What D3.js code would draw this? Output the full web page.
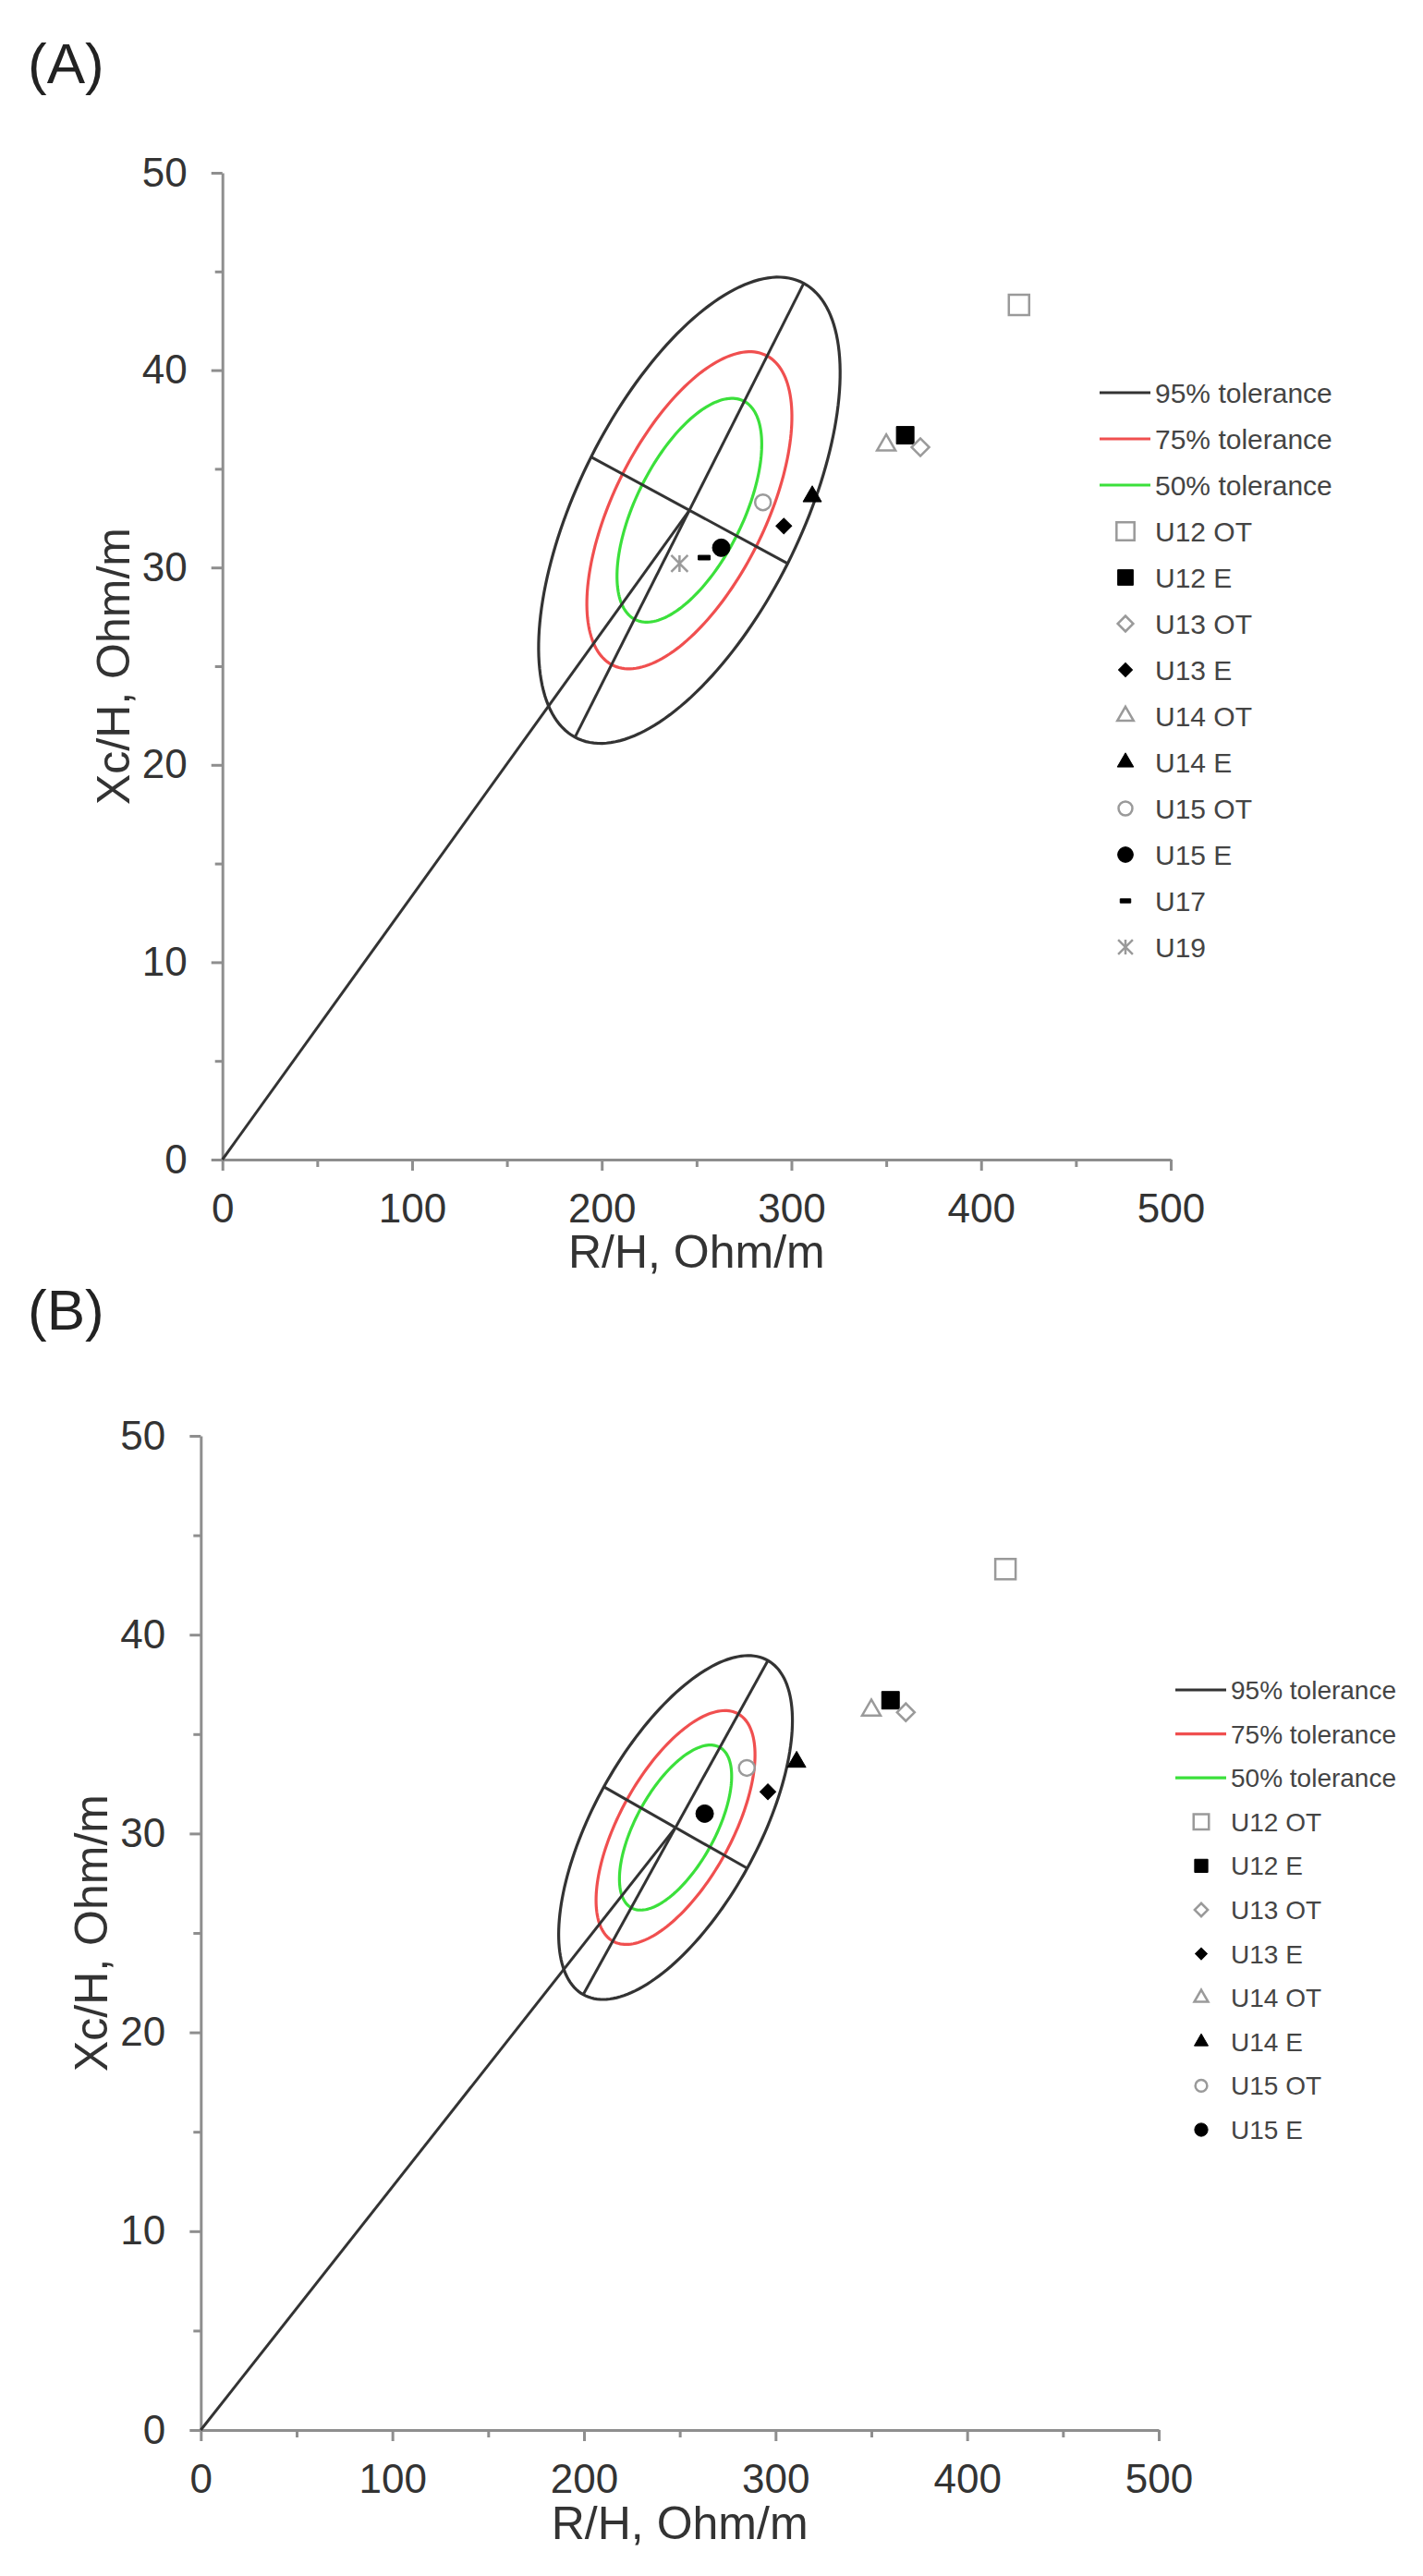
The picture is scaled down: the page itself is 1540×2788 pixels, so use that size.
<!DOCTYPE html>
<html>
<head>
<meta charset="utf-8">
<script src="https://cdn.jsdelivr.net/npm/d3@7"></script>
<style>
  body { margin: 0; background: #fff; }
  svg { display: block; font-family: "Liberation Sans", Arial, sans-serif; }
</style>
</head>
<body>
<svg id="chart" width="1540" height="2788"></svg>
<script>
const seriesNames = ["U12 OT", "U12 E", "U13 OT", "U13 E", "U14 OT", "U14 E", "U15 OT", "U15 E", "U17", "U19"];
const rOverH  = [420, 360, 368, 296, 350, 311, 285, 263, 254, 241];
const xcOverH = [43.3, 36.7, 36.1, 32.1, 36.2, 33.6, 33.3, 31.0, 30.5, 30.2];

const toleranceLabels = ["95% tolerance", "75% tolerance", "50% tolerance"];
const toleranceRatio = [1, 0.68, 0.48];

// tolerance ellipse: mean vector and tips of the two half-axes (data units)
const ellipseA = { center: [246.2, 32.9], major: [306.5, 44.4], minor: [298.0, 30.2] };
const ellipseB = { center: [247.8, 30.3], major: [296.0, 38.7], minor: [285.2, 28.25] };

const xTicks = [0, 100, 200, 300, 400, 500];
const xMinor = [50, 150, 250, 350, 450];
const yTicks = [0, 10, 20, 30, 40, 50];
const yMinor = [5, 15, 25, 35, 45];

// styles
const toleranceColors = ["#333333", "#f04f4f", "#3be03b"];
const markerStyle = {
	"U12 OT": { shape: "square",   size: 22, filled: false },
	"U12 E":  { shape: "square",   size: 19, filled: true },
	"U13 OT": { shape: "diamond",  size: 19, filled: false },
	"U13 E":  { shape: "diamond",  size: 17, filled: true },
	"U14 OT": { shape: "triangle", size: 20, filled: false },
	"U14 E":  { shape: "triangle", size: 20, filled: true },
	"U15 OT": { shape: "circle",   size: 17, filled: false },
	"U15 E":  { shape: "circle",   size: 19, filled: true },
	"U17":    { shape: "dash",     size: 13, filled: true },
	"U19":    { shape: "star",     size: 18, filled: false }
};

const panels = [
	{ label: "(A)", labelY: 90, n: 10, ellipse: ellipseA,
	  left: 240.7, right: 1267, top: 187, bottom: 1255,
	  yTitleX: 140, xTitleY: 1372,
	  legendX: 1190, legendY: 425, legendStep: 50, legendFont: 30, legendMarker: 0.88 },
	{ label: "(B)", labelY: 1439, n: 8, ellipse: ellipseB,
	  left: 217.3, right: 1254, top: 1554, bottom: 2630,
	  yTitleX: 116, xTitleY: 2748,
	  legendX: 1272, legendY: 1829, legendStep: 47.6, legendFont: 28, legendMarker: 0.75 }
];

const svg = d3.select("#chart");
const fontFamily = '"Liberation Sans", Arial, sans-serif';

function markerPath(shape, s) {
	switch (shape) {
		case "square":   return d3.symbol(d3.symbolSquare, s * s)();
		case "diamond":  return d3.symbol(d3.symbolSquare, s * s / 2)();
		case "circle":   return d3.symbol(d3.symbolCircle, Math.PI * s * s / 4)();
		case "triangle": return d3.symbol(d3.symbolTriangle, s * s * Math.sqrt(3) / 4)();
		case "dash":     return `M${-s / 2},${-s * 0.19}h${s}v${s * 0.38}h${-s}z`;
		case "star": {
			const h = s / 2;
			return `M${-h},${-h}L${h},${h}M${-h},${h}L${h},${-h}M0,${-h}V${h}`;
		}
	}
}

function drawMarker(g, name, cx, cy, scale) {
	const st = markerStyle[name];
	const p = g.append("path")
		.attr("d", markerPath(st.shape, st.size * scale))
		.attr("transform", `translate(${cx},${cy})` + (st.shape === "diamond" ? " rotate(45)" : ""));
	if (st.shape === "star") {
		p.attr("fill", "none").attr("stroke", "#9a9a9a").attr("stroke-width", 2.5);
	} else if (st.filled) {
		p.attr("fill", "#000").attr("stroke", "#000").attr("stroke-width", 1);
	} else {
		p.attr("fill", "#fff").attr("stroke", "#9a9a9a").attr("stroke-width", 2.5);
	}
}

function ellipsePoints(e, k) {
	const ax = e.major[0] - e.center[0], ay = e.major[1] - e.center[1];
	const bx = e.minor[0] - e.center[0], by = e.minor[1] - e.center[1];
	return d3.range(0, 360, 2).map(deg => {
		const t = deg * Math.PI / 180;
		return [e.center[0] + k * (ax * Math.cos(t) + bx * Math.sin(t)),
		        e.center[1] + k * (ay * Math.cos(t) + by * Math.sin(t))];
	});
}

function styleAxis(g) {
	g.attr("font-family", fontFamily).attr("font-size", 44);
	g.selectAll(".domain, .tick line").attr("stroke", "#8e8e8e").attr("stroke-width", 3);
	g.selectAll("text").attr("fill", "#333");
}

function drawPanel(p) {
	const g = svg.append("g");
	const x = d3.scaleLinear().domain([0, 500]).range([p.left, p.right]);
	const y = d3.scaleLinear().domain([0, 50]).range([p.bottom, p.top]);

	// panel tag
	g.append("text")
		.attr("x", 30).attr("y", p.labelY)
		.attr("font-size", 62).attr("fill", "#222")
		.text(p.label);

	// axes: major ticks with labels, minor ticks without
	g.append("g")
		.attr("transform", `translate(0,${p.bottom})`)
		.call(d3.axisBottom(x).tickValues(xTicks).tickSize(12).tickSizeOuter(0).tickPadding(25))
		.call(styleAxis);
	g.append("g")
		.attr("transform", `translate(0,${p.bottom})`)
		.call(d3.axisBottom(x).tickValues(xMinor).tickSize(8).tickFormat(""))
		.call(styleAxis)
		.call(s => s.select(".domain").remove());
	g.append("g")
		.attr("transform", `translate(${p.left},0)`)
		.call(d3.axisLeft(y).tickValues(yTicks).tickSize(12).tickSizeOuter(0).tickPadding(26))
		.call(styleAxis);
	g.append("g")
		.attr("transform", `translate(${p.left},0)`)
		.call(d3.axisLeft(y).tickValues(yMinor).tickSize(8).tickFormat(""))
		.call(styleAxis)
		.call(s => s.select(".domain").remove());

	// axis titles
	g.append("text")
		.attr("x", (p.left + p.right) / 2).attr("y", p.xTitleY)
		.attr("text-anchor", "middle")
		.attr("font-size", 50).attr("fill", "#333")
		.text("R/H, Ohm/m");
	g.append("text")
		.attr("transform", `translate(${p.yTitleX},${(p.top + p.bottom) / 2}) rotate(-90)`)
		.attr("text-anchor", "middle")
		.attr("font-size", 50).attr("fill", "#333")
		.text("Xc/H, Ohm/m");

	const line = d3.line().x(d => x(d[0])).y(d => y(d[1]));
	const e = p.ellipse;

	// tolerance ellipses
	toleranceRatio.forEach((k, i) => {
		g.append("path")
			.attr("d", line.curve(d3.curveLinearClosed)(ellipsePoints(e, k)))
			.attr("fill", "none")
			.attr("stroke", toleranceColors[i])
			.attr("stroke-width", 3.2);
	});
	line.curve(d3.curveLinear);

	// vector from origin to mean, and the two axes of the 95% ellipse
	const opp = v => [2 * e.center[0] - v[0], 2 * e.center[1] - v[1]];
	[[[0, 0], e.center], [opp(e.major), e.major], [opp(e.minor), e.minor]].forEach(seg => {
		g.append("path")
			.attr("d", line(seg))
			.attr("fill", "none")
			.attr("stroke", "#333")
			.attr("stroke-width", 3);
	});

	// measured points
	for (let i = 0; i < p.n; i++) {
		drawMarker(g, seriesNames[i], x(rOverH[i]), y(xcOverH[i]), 1);
	}

	// legend
	const lg = g.append("g").attr("font-size", p.legendFont).attr("fill", "#444");
	toleranceLabels.forEach((t, i) => {
		const ly = p.legendY + i * p.legendStep;
		lg.append("line")
			.attr("x1", p.legendX).attr("x2", p.legendX + 55)
			.attr("y1", ly).attr("y2", ly)
			.attr("stroke", toleranceColors[i]).attr("stroke-width", 3.2);
		lg.append("text")
			.attr("x", p.legendX + 60).attr("y", ly).attr("dy", "0.36em")
			.text(t);
	});
	for (let i = 0; i < p.n; i++) {
		const ly = p.legendY + (i + 3) * p.legendStep;
		drawMarker(lg, seriesNames[i], p.legendX + 28, ly, p.legendMarker);
		lg.append("text")
			.attr("x", p.legendX + 60).attr("y", ly).attr("dy", "0.36em")
			.text(seriesNames[i]);
	}
}

panels.forEach(drawPanel);
</script>
</body>
</html>
